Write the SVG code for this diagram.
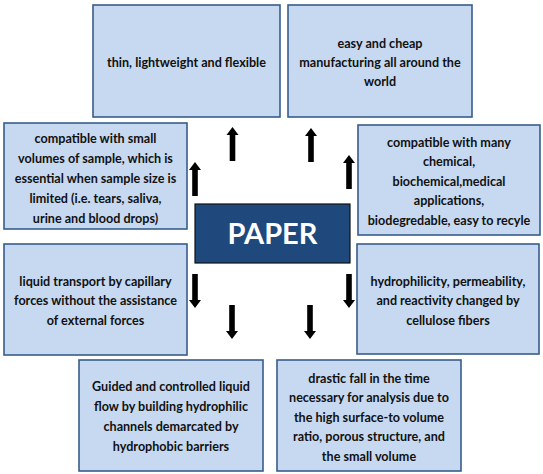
<svg xmlns="http://www.w3.org/2000/svg" width="543" height="474" viewBox="0 0 543 474">
<defs>
<style>
.box{fill:#C6D9F1;stroke:#385D8A;stroke-width:1.6}
.t{font-family:Lato,"Liberation Sans",sans-serif;font-weight:bold;font-size:12.6px;fill:#111;text-anchor:middle}
.core{fill:#1F487C;stroke:#111;stroke-width:1.2}
.ct{font-family:Lato,"Liberation Sans",sans-serif;font-weight:bold;font-size:29px;fill:#fff;text-anchor:middle}
.ar{fill:#000}
</style>
<path id="up" d="M0,0 L6,8 L2.8,8 L2.8,34 L-2.8,34 L-2.8,8 L-6,8 Z"/>
<path id="down" d="M0,0 L6,-8 L2.8,-8 L2.8,-34 L-2.8,-34 L-2.8,-8 L-6,-8 Z"/>
</defs>
<rect width="543" height="474" fill="#fff"/>
<g id="connectors" class="ar">
<use href="#up" x="232.5" y="127"/>
<use href="#up" x="195" y="162"/>
<use href="#up" x="311" y="128"/>
<use href="#up" x="349" y="155"/>
<use href="#down" x="195" y="308"/>
<use href="#down" x="232" y="339"/>
<use href="#down" x="310" y="339"/>
<use href="#down" x="349" y="308"/>
</g>
<g id="paper">
<rect class="core" x="195" y="204" width="155" height="59"/>
<text class="ct" x="272.5" y="244">PAPER</text>
</g>
<g id="n1">
<rect class="box" x="93" y="5" width="187" height="112"/>
<text class="t" x="186.5" y="66.5">thin, lightweight and flexible</text>
</g>
<g id="n2">
<rect class="box" x="288" y="5" width="184" height="112"/>
<text class="t" x="380" y="47.5">easy and cheap</text>
<text class="t" x="380" y="67">manufacturing all around the</text>
<text class="t" x="380" y="86">world</text>
</g>
<g id="n3">
<rect class="box" x="4" y="123" width="183" height="106"/>
<text class="t" x="95.5" y="142.5">compatible with small</text>
<text class="t" x="95.5" y="162.5">volumes of sample, which is</text>
<text class="t" x="95.5" y="182.5">essential when sample size is</text>
<text class="t" x="95.5" y="202.5">limited (i.e. tears, saliva,</text>
<text class="t" x="95.5" y="222.5">urine and blood drops)</text>
</g>
<g id="n4">
<rect class="box" x="358" y="125" width="182" height="110"/>
<text class="t" x="449" y="146.5">compatible with many</text>
<text class="t" x="449" y="166">chemical,</text>
<text class="t" x="449" y="185.5">biochemical,medical</text>
<text class="t" x="449" y="205">applications,</text>
<text class="t" x="449" y="224.5">biodegredable, easy to recyle</text>
</g>
<g id="n5">
<rect class="box" x="4" y="244" width="183" height="111"/>
<text class="t" x="95.5" y="285.5">liquid transport by capillary</text>
<text class="t" x="95.5" y="305">forces without the assistance</text>
<text class="t" x="95.5" y="324.5">of external forces</text>
</g>
<g id="n6">
<rect class="box" x="357" y="244" width="182" height="110"/>
<text class="t" x="448" y="285.5">hydrophilicity, permeability,</text>
<text class="t" x="448" y="305">and reactivity changed by</text>
<text class="t" x="448" y="324.5">cellulose fibers</text>
</g>
<g id="n7">
<rect class="box" x="79" y="360" width="184" height="111"/>
<text class="t" x="171" y="390.5">Guided and controlled liquid</text>
<text class="t" x="171" y="410.5">flow by building hydrophilic</text>
<text class="t" x="171" y="430.5">channels demarcated by</text>
<text class="t" x="171" y="450.5">hydrophobic barriers</text>
</g>
<g id="n8">
<rect class="box" x="277" y="360" width="184" height="111"/>
<text class="t" x="369" y="382.5">drastic fall in the time</text>
<text class="t" x="369" y="402">necessary for analysis due to</text>
<text class="t" x="369" y="421.5">the high surface-to volume</text>
<text class="t" x="369" y="441">ratio, porous structure, and</text>
<text class="t" x="369" y="460.5">the small volume</text>
</g>
</svg>
